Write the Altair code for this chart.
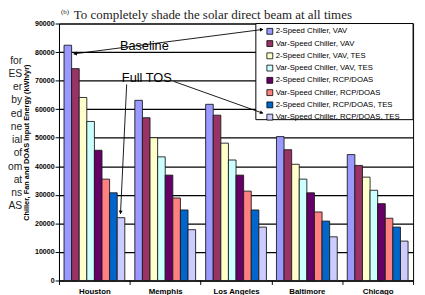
import math
import altair as alt
import pandas as pd

# ---------------- data ----------------
cities = ["Houston", "Memphis", "Los Angeles", "Baltimore", "Chicago"]
series = [
    "2-Speed Chiller, VAV",
    "Var-Speed Chiller, VAV",
    "2-Speed Chiller, VAV, TES",
    "Var-Speed Chiller, VAV, TES",
    "2-Speed Chiller, RCP/DOAS",
    "Var-Speed Chiller, RCP/DOAS",
    "2-Speed Chiller, RCP/DOAS, TES",
    "Var-Speed Chiller, RCP/DOAS, TES",
]
colors = ["#9999FF", "#993366", "#FFFFCC", "#CCFFFF",
          "#660066", "#FF8080", "#0066CC", "#CCCCFF"]

two_speed_vav = [82400, 63100, 61700, 50400, 44100]
var_speed_vav = [74200, 57000, 57900, 45800, 40300]
two_speed_vav_tes = [64100, 50000, 48100, 40700, 36200]
var_speed_vav_tes = [55700, 43300, 42200, 35500, 31600]
two_speed_doas = [45600, 36900, 36900, 30700, 26900]
var_speed_doas = [35500, 28900, 31300, 24000, 21800]
two_speed_doas_tes = [30700, 24700, 24700, 20800, 18700]
var_speed_doas_tes = [22000, 17800, 18700, 15300, 13800]

series_values = [two_speed_vav, var_speed_vav, two_speed_vav_tes, var_speed_vav_tes,
                 two_speed_doas, var_speed_doas, two_speed_doas_tes, var_speed_doas_tes]

y_ticks = [0, 10000, 20000, 30000, 40000, 50000, 60000, 70000, 80000, 90000]

left_fragments = ["for", "ES", "er", "by", "ed", "ne", "ial", "of", "om", "at", "ns", "AS"]
header_note = "(b)"
header_text = "To completely shade the solar direct beam at all times"
y_title = "Chiller, Fan and DOAS Input Energy (kWh/yr)"

rows = []
for name, vals in zip(series, series_values):
    for city, v in zip(cities, vals):
        rows.append({"city": city, "series": name, "energy": v})
df = pd.DataFrame(rows)
one = pd.DataFrame({"a": [0]})

FONT = "Liberation Sans"
SERIF = "Liberation Serif"

# ---------------- bars ----------------
bars = alt.Chart(df).mark_bar(stroke="#1a1a1a", strokeWidth=0.9).encode(
    x=alt.X(
        "city:N", sort=cities,
        scale=alt.Scale(paddingInner=0, paddingOuter=0),
        axis=alt.Axis(title=None, labelAngle=0, tickBand="extent", grid=False,
                      labelFont=FONT, labelFontWeight="bold", labelFontSize=8,
                      labelColor="black", tickSize=4, tickColor="black",
                      domainColor="black", labelPadding=3),
    ),
    xOffset=alt.XOffset("series:N", sort=series,
                        scale=alt.Scale(paddingInner=0, paddingOuter=0.66)),
    y=alt.Y(
        "energy:Q",
        scale=alt.Scale(domain=[0, 90000], nice=False),
        axis=alt.Axis(values=y_ticks, format="d", title=y_title,
                      labelFont=FONT, labelFontWeight="bold", labelFontSize=7.2,
                      labelColor="black", labelPadding=1, tickSize=4,
                      tickColor="black", domainColor="black",
                      gridColor="black", gridWidth=1.2, gridOpacity=1,
                      titleFont=FONT, titleFontWeight="bold", titleFontSize=7.5,
                      titleColor="black", titleAngle=270, titleX=-33, titleY=121,
                      titleAlign="center", titleBaseline="middle"),
    ),
    color=alt.Color(
        "series:N", sort=series,
        scale=alt.Scale(domain=series, range=colors),
        legend=alt.Legend(title=None, orient="none", legendX=211, legendY=4,
                          symbolType="square", symbolSize=36,
                          symbolStrokeColor="black", symbolStrokeWidth=0.8,
                          labelFont=FONT, labelFontSize=7.9, labelColor="black",
                          rowPadding=2.5, padding=0, labelOffset=2,
                          symbolOffset=0),
    ),
)

# ---------------- legend box (drawn under arrows) ----------------
legend_box = alt.Chart(one).mark_rect(fill="white", stroke="black", strokeWidth=1).encode(
    x=alt.value(200.7), x2=alt.value(361), y=alt.value(0), y2=alt.value(98)
)

# ---------------- annotation arrows ----------------
# (x1, y1, x2, y2, arrow at start, arrow at end) in plot pixels
arrow_lines = [
    (15, 31, 208, 6, True, True),      # Baseline
    (69, 62, 62.7, 194, False, True),  # Full TOS -> Houston bar
    (117, 59, 208, 91.5, False, True), # Full TOS -> legend
]
layers = [bars, legend_box]
for (x1, y1, x2, y2, a1, a2) in arrow_lines:
    layers.append(
        alt.Chart(one).mark_rule(color="black", strokeWidth=0.9).encode(
            x=alt.value(x1), y=alt.value(y1), x2=alt.value(x2), y2=alt.value(y2))
    )
    heads = []
    if a2:
        heads.append((x2, y2, x2 - x1, y2 - y1))
    if a1:
        heads.append((x1, y1, x1 - x2, y1 - y2))
    for (tx, ty, dx, dy) in heads:
        L = math.hypot(dx, dy)
        ux, uy = dx / L, dy / L
        ang = math.degrees(math.atan2(dx, -dy)) % 360
        layers.append(
            alt.Chart(one).mark_point(shape="triangle", filled=True, size=16,
                                      color="black", opacity=1).encode(
                x=alt.value(tx - 2 * ux), y=alt.value(ty - 2 * uy),
                angle=alt.value(ang))
        )

# ---------------- texts ----------------
layers.append(alt.Chart(one).mark_text(font=FONT, fontSize=13, color="black",
                                       align="center", baseline="middle").encode(
    x=alt.value(87), y=alt.value(23.5), text=alt.value("Baseline")))
layers.append(alt.Chart(one).mark_text(font=FONT, fontSize=13, color="black",
                                       align="center", baseline="middle").encode(
    x=alt.value(89.5), y=alt.value(55.7), text=alt.value("Full TOS")))

layers.append(alt.Chart(one).mark_text(font=FONT, fontSize=10.5, color="#222",
                                       align="right", baseline="alphabetic",
                                       lineBreak="\n", lineHeight=13.5).encode(
    x=alt.value(-37.5), y=alt.value(41), text=alt.value("\n".join(left_fragments))))

layers.append(alt.Chart(one).mark_text(font=SERIF, fontSize=7, color="#222",
                                       align="left", baseline="alphabetic").encode(
    x=alt.value(2), y=alt.value(-10), text=alt.value(header_note)))
layers.append(alt.Chart(one).mark_text(font=SERIF, fontSize=13.2, color="#222",
                                       align="left", baseline="alphabetic").encode(
    x=alt.value(15), y=alt.value(-4.5), text=alt.value(header_text)))

chart = alt.layer(*layers).properties(
    width=361, height=262,
    autosize=alt.AutoSizeParams(type="none"),
    padding={"left": 52, "top": 13, "right": 4, "bottom": 14},
    background="white",
).configure_view(stroke="black", strokeWidth=1)

chart.save("out.html", embed_options={"renderer": "svg", "actions": False})
